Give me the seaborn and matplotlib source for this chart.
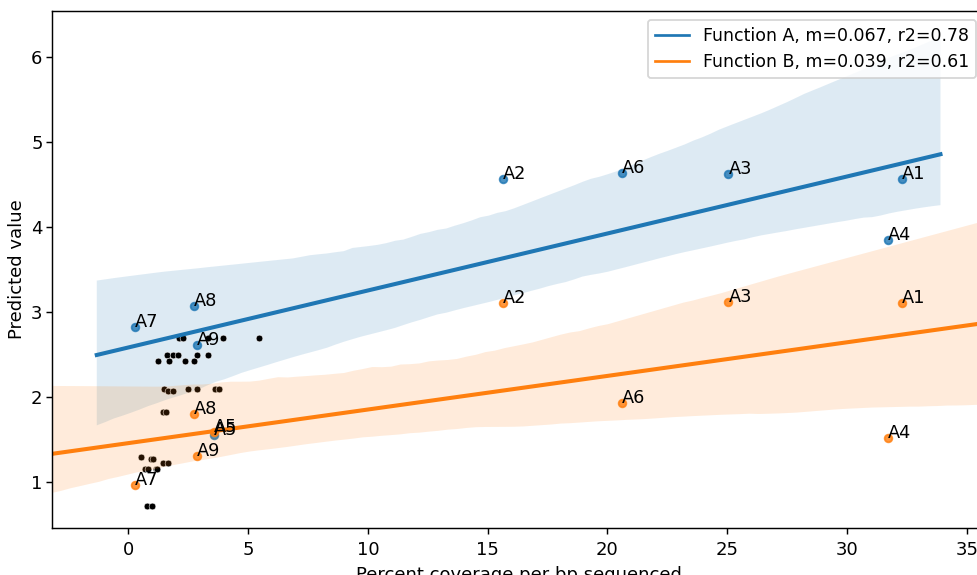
import matplotlib
matplotlib.use("Agg")
import matplotlib.pyplot as plt
from matplotlib.lines import Line2D
import seaborn as sns

# labelled samples
labels = ["A1", "A2", "A3", "A4", "A5", "A6", "A7", "A8", "A9"]
coverage = [32.3, 15.65, 25.05, 31.7, 3.58, 20.6, 0.28, 2.72, 2.86]
pred_a = [4.56, 4.56, 4.62, 3.85, 1.55, 4.64, 2.82, 3.07, 2.61]
pred_b = [3.11, 3.11, 3.12, 1.52, 1.59, 1.93, 0.96, 1.80, 1.31]

# unlabelled background samples (black dots)
bg_cov = [2.11, 2.28, 3.32, 3.95, 5.45,
          1.61, 1.86, 2.07, 2.86, 3.32,
          1.23, 1.69, 2.36, 2.73,
          1.48, 2.48, 2.86, 3.61, 3.78,
          1.65, 1.86,
          1.44, 1.57,
          0.52, 0.94, 1.02, 1.44, 1.65,
          0.69, 0.81, 1.15, 1.19,
          0.77, 0.98]
bg_pred = [2.70, 2.70, 2.70, 2.70, 2.70,
           2.50, 2.50, 2.50, 2.50, 2.50,
           2.42, 2.42, 2.42, 2.42,
           2.10, 2.10, 2.10, 2.10, 2.10,
           2.07, 2.07,
           1.83, 1.83,
           1.30, 1.27, 1.27, 1.22, 1.22,
           1.15, 1.15, 1.15, 1.15,
           0.72, 0.72]

legend_a = "Function A, m=0.067, r2=0.78"
legend_b = "Function B, m=0.039, r2=0.61"

fig = plt.figure(figsize=(977 / 130, 575 / 130), dpi=130)
ax = fig.add_axes([52 / 977, 47 / 575, 933 / 977, 517 / 575])

# Function A
sns.regplot(x=coverage, y=pred_a, ax=ax, color="#1f77b4", truncate=False,
            seed=1, scatter_kws={"s": 18})
for lab, x, y in zip(labels, coverage, pred_a):
    ax.text(x, y, lab, fontsize=9.8)

ax.set_xlim(-3.19, 35.76)
ax.set_ylim(0.46, 6.54)

# background samples
sns.scatterplot(x=bg_cov, y=bg_pred, color="black", s=14, ax=ax)

# Function B
sns.regplot(x=coverage, y=pred_b, ax=ax, color="#ff7f0e", truncate=False,
            seed=1, scatter_kws={"s": 18})
for lab, x, y in zip(labels, coverage, pred_b):
    ax.text(x, y, lab, fontsize=9.8)

ax.set_xlim(-3.19, 35.76)
ax.set_ylim(0.46, 6.54)
ax.set_xticks([0, 5, 10, 15, 20, 25, 30, 35])
ax.tick_params(axis="y", pad=1.7)
ax.set_xlabel("Percent coverage per bp sequenced")
ax.set_ylabel("Predicted value", labelpad=2.8)

handles = [Line2D([], [], color="#1f77b4", lw=1.5),
           Line2D([], [], color="#ff7f0e", lw=1.5)]
ax.legend(handles, [legend_a, legend_b], loc="upper right", fontsize=9.6)

fig.savefig("out.png", dpi=130)
